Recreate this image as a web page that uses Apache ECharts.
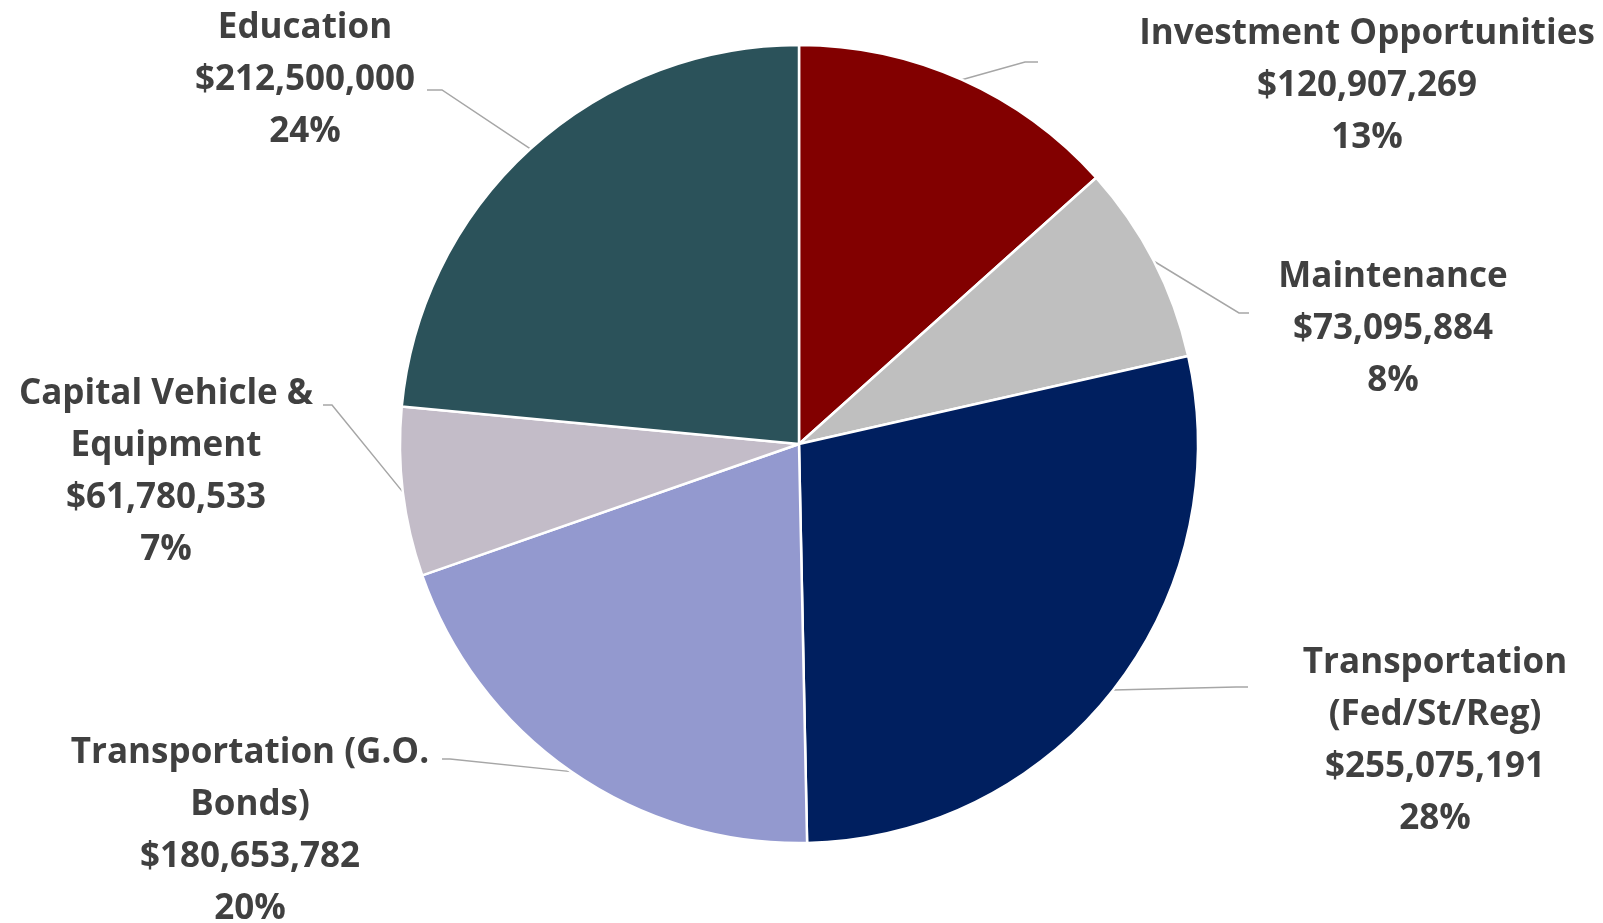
<!DOCTYPE html>
<html>
<head>
<meta charset="utf-8">
<script src="https://cdn.jsdelivr.net/npm/echarts@6/dist/echarts.min.js"></script>
<style>html,body{margin:0;padding:0;background:#fff}#c{width:1603px;height:923px}</style>
</head>
<body>
<div id="c"></div>
<script>
// Data
const categories = [
  'Investment Opportunities',
  'Maintenance',
  'Transportation\n(Fed/St/Reg)',
  'Transportation (G.O.\nBonds)',
  'Capital Vehicle &\nEquipment',
  'Education'
];
const values = [120907269, 73095884, 255075191, 180653782, 61780533, 212500000];
const colors = ['#820000', '#BFBFBF', '#001F5F', '#9399CF', '#C3BCC8', '#2B525A'];

// Label layout (positions only)
const labelPos = [
  {x: 1367, y: 86,  bend: [[1025, 62], [1038, 62]]},
  {x: 1393, y: 329, bend: [[1239, 313], [1249, 313]]},
  {x: 1435, y: 741, bend: [[1236, 687], [1248, 687]]},
  {x: 250,  y: 831, bend: [[450, 759], [442, 759]]},
  {x: 166,  y: 472, bend: [[332, 405], [323, 405]]},
  {x: 305,  y: 80,  bend: [[442, 90], [427, 90]]}
];
const CX = 799, CY = 444, R = 399;

const chart = echarts.init(document.getElementById('c'));
const total = values.reduce((a, b) => a + b, 0);

chart.setOption({
  animation: false,
  color: colors,
  series: [{
    type: 'pie',
    center: [CX, CY],
    radius: [0, R],
    startAngle: 90,
    clockwise: true,
    avoidLabelOverlap: false,
    itemStyle: {borderColor: '#fff', borderWidth: 2.5},
    label: {
      show: true,
      position: 'outside',
      fontFamily: 'Open Sans',
      fontWeight: 'bold',
      fontSize: 35,
      lineHeight: 52,
      color: '#404040',
      align: 'center',
      formatter: p => p.name + '\n$' + p.value.toLocaleString('en-US') + '\n' + Math.round(p.value / total * 100) + '%'
    },
    labelLine: {show: true, lineStyle: {color: '#A6A6A6', width: 1.5}},
    labelLayout: function (params) {
      const i = params.dataIndex;
      const lp = labelPos[i];
      let cum = 0;
      for (let k = 0; k < i; k++) cum += values[k];
      const mid = (cum + values[i] / 2) / total * 2 * Math.PI;
      const start = [CX + R * Math.sin(mid), CY - R * Math.cos(mid)];
      return {
        x: lp.x,
        y: lp.y,
        align: 'center',
        verticalAlign: 'middle',
        labelLinePoints: [start, lp.bend[0], lp.bend[1]]
      };
    },
    data: categories.map((n, i) => ({name: n, value: values[i]}))
  }]
});
</script>
</body>
</html>
